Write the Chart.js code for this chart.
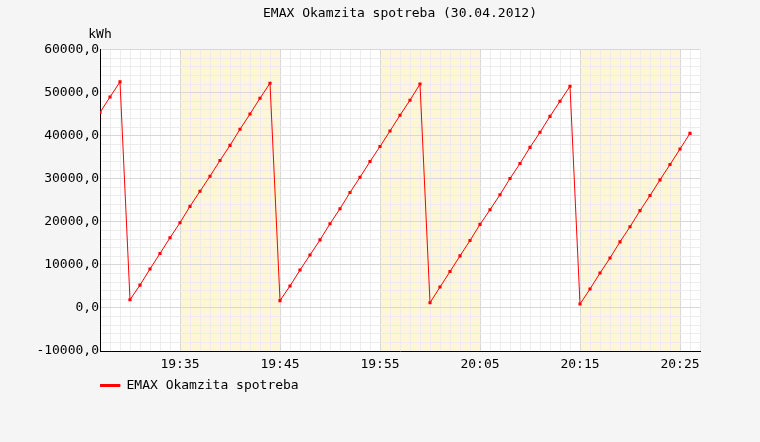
<!DOCTYPE html>
<html>
<head>
<meta charset="utf-8">
<script src="https://cdn.jsdelivr.net/npm/chart.js@4"></script>
<style>
  html, body { margin: 0; padding: 0; background: #f5f5f5; }
  #wrap { width: 760px; height: 442px; }
</style>
</head>
<body>
<div id="wrap"><canvas id="spotrebaChart" width="760" height="442"></canvas></div>
<script>
// one reading per minute, 19:27 .. 20:26
var times = [
  '19:27', '19:28', '19:29', '19:30', '19:31', '19:32', '19:33', '19:34', '19:35', '19:36',
  '19:37', '19:38', '19:39', '19:40', '19:41', '19:42', '19:43', '19:44', '19:45', '19:46',
  '19:47', '19:48', '19:49', '19:50', '19:51', '19:52', '19:53', '19:54', '19:55', '19:56',
  '19:57', '19:58', '19:59', '20:00', '20:01', '20:02', '20:03', '20:04', '20:05', '20:06',
  '20:07', '20:08', '20:09', '20:10', '20:11', '20:12', '20:13', '20:14', '20:15', '20:16',
  '20:17', '20:18', '20:19', '20:20', '20:21', '20:22', '20:23', '20:24', '20:25', '20:26'
];
var spotreba = [
  45400, 49000, 52500, 1900, 5300, 9050, 12650, 16300, 19800, 23600,
  27100, 30600, 34250, 37750, 41500, 45050, 48700, 52200, 1700, 5100,
  8800, 12300, 15800, 19550, 23050, 26800, 30350, 34000, 37500, 41100,
  44750, 48250, 52000, 1200, 4850, 8450, 12100, 15650, 19400, 22800,
  26300, 30050, 33550, 37300, 40800, 44500, 48000, 51500, 900, 4400,
  8100, 11600, 15350, 18850, 22600, 26100, 29750, 33300, 36900, 40550
];
var xLabels = ['19:35', '19:45', '19:55', '20:05', '20:15', '20:25'];
var bands = [['19:35', '19:45'], ['19:55', '20:05'], ['20:15', '20:25']];
var axisStart = '19:27';
var axisEnd = '20:27';

function toMin(t) {
  var p = t.split(':');
  return parseInt(p[0], 10) * 60 + parseInt(p[1], 10);
}
function fmtMin(m) {
  var h = Math.floor(m / 60), mm = m % 60;
  return h + ':' + (mm < 10 ? '0' : '') + mm;
}
var majorMins = xLabels.map(toMin);

var points = times.map(function(t, i) {
  return { x: toMin(t), y: spotreba[i] };
});

var mono = "'DejaVu Sans Mono', 'Liberation Mono', monospace";

// white plot area + yellow bands, drawn under the grid
var backdrop = {
  id: 'backdrop',
  beforeDraw: function(chart) {
    var c = chart.ctx, a = chart.chartArea, xs = chart.scales.x;
    c.save();
    c.fillStyle = '#ffffff';
    c.fillRect(a.left, a.top, a.right - a.left, a.bottom - a.top);
    c.fillStyle = '#fff5d8';
    bands.forEach(function(b) {
      var x1 = xs.getPixelForValue(toMin(b[0]));
      var x2 = xs.getPixelForValue(toMin(b[1]));
      c.fillRect(x1, a.top, x2 - x1, a.bottom - a.top);
    });
    c.restore();
  },
  afterDraw: function(chart) {
    var c = chart.ctx, a = chart.chartArea;
    c.save();
    c.fillStyle = '#000';
    c.font = '13px ' + mono;
    c.textAlign = 'center';
    c.textBaseline = 'middle';
    c.fillText('kWh', a.left, a.top - 15);
    c.restore();
  }
};

var ctx = document.getElementById('spotrebaChart').getContext('2d');
var chart = new Chart(ctx, {
  type: 'line',
  data: {
    datasets: [{
      label: 'EMAX Okamzita spotreba',
      data: points,
      borderColor: '#ff0000',
      backgroundColor: '#ff0000',
      borderWidth: 1,
      pointStyle: 'rect',
      pointRadius: 2.2,
      pointBorderWidth: 0,
      pointBackgroundColor: '#ff0000',
      tension: 0,
      fill: false
    }]
  },
  options: {
    responsive: false,
    animation: false,
    layout: { padding: { left: 0, right: 60, top: 0, bottom: 40 } },
    plugins: {
      title: {
        display: true,
        text: 'EMAX Okamzita spotreba (30.04.2012)',
        fullSize: false,
        color: '#000',
        font: { family: mono, size: 13, weight: 'normal' },
        padding: { top: 6, bottom: 28 }
      },
      legend: {
        display: true,
        position: 'bottom',
        align: 'start',
        fullSize: false,
        labels: {
          color: '#000',
          font: { family: mono, size: 13 },
          boxWidth: 20,
          boxHeight: 2,
          padding: 0
        }
      },
      tooltip: { enabled: false }
    },
    scales: {
      x: {
        type: 'linear',
        min: toMin(axisStart),
        max: toMin(axisEnd),
        afterBuildTicks: function(scale) {
          var t = [];
          for (var m = toMin(axisStart); m <= toMin(axisEnd); m++) t.push({ value: m });
          scale.ticks = t;
        },
        afterFit: function(scale) { scale.height = 28; },
        grid: {
          drawTicks: false,
          color: function(c) {
            return majorMins.indexOf(c.tick.value) >= 0 ? '#d8d8d8' : '#ececec';
          }
        },
        border: { color: '#000', width: 1 },
        ticks: {
          autoSkip: false,
          maxRotation: 0,
          padding: 6,
          color: '#000',
          font: { family: mono, size: 13 },
          callback: function(v) {
            return majorMins.indexOf(v) >= 0 ? fmtMin(v) : '';
          }
        }
      },
      y: {
        min: -10000,
        max: 60000,
        afterBuildTicks: function(scale) {
          var t = [];
          for (var v = -10000; v <= 60000; v += 2000) t.push({ value: v });
          scale.ticks = t;
        },
        afterFit: function(scale) { scale.width = 100; },
        grid: {
          drawTicks: false,
          color: function(c) {
            return c.tick.value % 10000 === 0 ? '#d8d8d8' : '#ececec';
          }
        },
        border: { color: '#000', width: 1 },
        ticks: {
          autoSkip: false,
          padding: 1,
          color: '#000',
          font: { family: mono, size: 13 },
          callback: function(v) {
            return v % 10000 === 0 ? v.toFixed(1).replace('.', ',') : '';
          }
        }
      }
    }
  },
  plugins: [backdrop]
});
</script>
</body>
</html>
